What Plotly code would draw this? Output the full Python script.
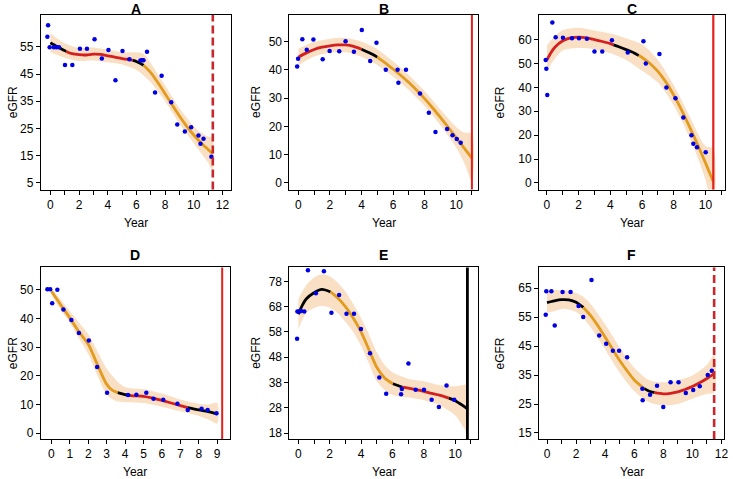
import plotly.graph_objects as go

W, H = 733, 479

# ---------------- data ----------------
panel_names = ["A", "B", "C", "D", "E", "F"]

# Panel A
A_pt_x = [-0.16, -0.21, -0.05, 0.25, 0.42, 0.6, 1.02, 1.53, 2.06, 2.55, 3.08, 3.59, 4.05, 4.54, 5.03, 5.51, 6.28, 6.39, 6.49, 6.74, 7.3, 7.76, 8.43, 8.85, 9.38, 9.82, 10.33, 10.47, 10.68, 11.23]
A_pt_y = [62.9, 58.7, 54.8, 54.8, 54.8, 54.8, 48.3, 48.3, 54.3, 54.3, 57.8, 50.7, 53.8, 42.7, 53.5, 50.4, 50.0, 50.1, 50.1, 53.2, 38.2, 44.4, 34.6, 26.5, 23.9, 25.5, 22.4, 19.4, 21.2, 14.6]
A_fit_x = [0, 0.5, 1, 1.1, 1.5, 2, 2.5, 3, 3.5, 4, 4.5, 5, 5.5, 5.75, 6, 6.5, 7, 7.5, 8, 8.5, 9, 9.5, 10, 10.5, 11, 11.3]
A_fit_y = [56.5, 55.0, 53.6, 53.3, 52.5, 52.1, 52.0, 52.3, 52.2, 51.7, 51.2, 50.7, 50.3, 50.0, 49.6, 48.2, 45.5, 41.8, 37.8, 33.6, 29.6, 25.9, 22.6, 19.8, 17.3, 15.8]
A_seg_x = [0, 1.1, 5.75, 6.5, 11.3]
A_seg_kind = ["k", "r", "k", "o"]
A_band_x = [0, 0.5, 1, 2, 3, 4, 5, 6, 6.5, 7, 8, 9, 10, 10.5, 11, 11.3]
A_band_hi = [60.0, 58.0, 56.3, 54.5, 54.7, 54.0, 53.0, 53.0, 52.5, 49.0, 40.8, 32.5, 25.8, 23.5, 22.0, 21.8]
A_band_lo = [53.0, 52.0, 51.0, 49.8, 50.0, 49.3, 48.5, 46.5, 44.5, 42.0, 35.0, 26.8, 19.6, 16.0, 12.5, 9.8]
A_vline = 11.33
A_xticks = list(range(0, 13))
A_yticks = [5, 15, 25, 35, 45, 55]

# Panel B
B_pt_x = [-0.08, -0.02, 0.25, 0.53, 0.95, 1.54, 1.98, 2.59, 2.99, 3.52, 4.02, 4.55, 4.95, 5.54, 6.29, 6.34, 6.82, 7.71, 8.27, 8.69, 9.43, 9.77, 10.04, 10.29]
B_pt_y = [41.2, 43.9, 50.8, 47.1, 50.7, 43.7, 46.7, 46.6, 50.1, 46.4, 54.1, 43.1, 49.6, 40.0, 40.0, 35.4, 40.0, 31.6, 24.8, 18.0, 19.1, 16.9, 15.5, 14.2]
B_fit_x = [0, 0.5, 1, 1.5, 2, 2.5, 3, 3.5, 4, 4.5, 5, 5.5, 6, 6.5, 7, 7.5, 8, 8.5, 9, 9.5, 10, 10.5, 11]
B_fit_y = [44.5, 46.0, 47.2, 48.0, 48.5, 48.8, 48.8, 48.3, 47.3, 46.0, 44.5, 42.5, 40.3, 38.0, 35.5, 32.8, 29.8, 26.6, 23.2, 19.7, 16.0, 12.4, 8.8]
B_seg_x = [0, 4, 5, 11]
B_seg_kind = ["r", "k", "o"]
B_band_x = [0, 0.5, 1, 2, 3, 4, 5, 6, 7, 8, 9, 10, 10.5, 11]
B_band_hi = [47.5, 48.8, 49.8, 51.0, 51.3, 50.0, 47.3, 43.0, 38.2, 32.5, 26.0, 19.8, 17.8, 17.3]
B_band_lo = [41.5, 43.3, 44.7, 46.0, 46.2, 44.6, 41.7, 37.6, 32.8, 27.2, 20.4, 12.5, 7.2, 0.5]
B_vline = 11.0
B_xticks = list(range(0, 12))
B_yticks = [0, 10, 20, 30, 40, 50]

# Panel C
C_pt_x = [-0.08, -0.04, 0.02, 0.34, 0.55, 1.01, 1.58, 2.02, 2.52, 3.0, 3.49, 4.1, 5.1, 6.09, 6.24, 7.1, 7.54, 8.11, 8.61, 9.12, 9.24, 9.47, 10.02]
C_pt_y = [51.5, 47.8, 36.8, 67.1, 61.0, 60.8, 60.6, 60.6, 60.3, 55.0, 55.0, 59.7, 54.6, 59.3, 50.0, 54.0, 40.0, 35.4, 27.4, 20.0, 16.4, 14.9, 12.8]
C_fit_x = [0, 0.25, 0.5, 1, 1.5, 2, 2.5, 3, 3.5, 4, 4.2, 4.5, 5, 5.5, 5.8, 6, 6.5, 7, 7.5, 8, 8.5, 9, 9.5, 10, 10.5]
C_fit_y = [51.5, 54.5, 56.8, 59.5, 60.7, 61.0, 60.7, 60.0, 59.2, 58.3, 57.8, 57.1, 55.8, 54.4, 53.3, 52.5, 50.0, 46.7, 42.3, 36.8, 30.5, 23.5, 16.2, 8.5, 0.5]
C_seg_x = [0, 4.2, 5.8, 10.5]
C_seg_kind = ["r", "k", "o"]
C_band_x = [0, 0.5, 1, 2, 3, 4, 5, 6, 7, 8, 9, 10, 10.5]
C_band_hi = [57.6, 61.5, 64.0, 65.0, 63.8, 62.5, 60.5, 58.0, 51.5, 41.0, 28.0, 15.5, 14.5]
C_band_lo = [47.2, 52.0, 55.5, 56.5, 56.0, 54.3, 51.5, 47.0, 42.0, 32.5, 19.0, 1.5, -13.0]
C_vline = 10.5
C_xticks = list(range(0, 12))
C_yticks = [0, 10, 20, 30, 40, 50, 60]

# Panel D
D_pt_x = [-0.22, -0.07, 0.04, 0.32, 0.65, 1.08, 1.49, 2.03, 2.48, 3.02, 4.16, 4.61, 5.15, 5.54, 6.07, 6.84, 7.4, 8.15, 8.48, 8.96]
D_pt_y = [50.2, 50.2, 45.3, 50.0, 43.1, 39.5, 34.9, 32.3, 23.1, 14.1, 13.3, 13.4, 14.1, 12.0, 11.6, 10.2, 8.1, 8.5, 8.1, 6.9]
D_fit_x = [0, 0.5, 1, 1.5, 2, 2.5, 3, 3.3, 3.6, 4, 4.3, 4.5, 5, 5.5, 6, 6.5, 7, 7.4, 8, 8.5, 9]
D_fit_y = [49.5, 44.8, 40.2, 35.3, 31.0, 23.8, 17.0, 15.0, 14.1, 13.4, 13.1, 13.0, 12.8, 12.2, 11.4, 10.5, 9.6, 8.9, 8.1, 7.5, 6.7]
D_seg_x = [0, 3.6, 4.3, 7.4, 9]
D_seg_kind = ["o", "k", "r", "k"]
D_band_x = [0, 0.5, 1, 1.5, 2, 2.5, 3, 3.5, 4, 5, 6, 7, 8, 8.5, 9]
D_band_hi = [50.5, 46.5, 42.5, 38.5, 34.5, 28.5, 22.5, 18.5, 16.0, 15.3, 13.8, 11.7, 10.2, 10.0, 10.5]
D_band_lo = [48.0, 43.0, 38.5, 33.0, 27.5, 20.0, 13.5, 11.2, 10.8, 10.5, 9.2, 7.6, 6.0, 4.8, 3.3]
D_vline = 9.27
D_xticks = list(range(0, 10))
D_yticks = [0, 10, 20, 30, 40, 50]

# Panel E
E_pt_x = [-0.06, -0.08, 0.04, 0.17, 0.38, 0.61, 1.12, 1.63, 2.11, 2.6, 3.07, 3.55, 3.99, 4.57, 5.16, 5.6, 6.55, 6.6, 7.02, 7.48, 8.01, 8.5, 8.96, 9.45, 9.94]
E_pt_y = [66.1, 55.3, 66.1, 66.3, 66.1, 82.4, 73.3, 82.0, 65.6, 72.6, 65.2, 65.2, 59.1, 49.6, 40.0, 33.5, 33.3, 35.4, 45.5, 35.1, 35.1, 31.2, 28.3, 36.8, 31.2]
E_fit_x = [0, 0.25, 0.5, 1, 1.5, 2.05, 2.5, 3, 3.5, 4, 4.5, 5, 5.5, 6.03, 6.6, 7, 7.5, 8, 8.5, 9, 9.6, 10, 10.5, 10.78]
E_fit_y = [65.0, 68.5, 71.0, 73.5, 74.8, 73.8, 71.5, 68.0, 63.5, 58.0, 51.0, 44.0, 39.8, 37.5, 36.2, 35.8, 35.2, 34.5, 33.7, 33.0, 31.8, 30.8, 28.8, 27.5]
E_seg_x = [0, 2.05, 6.03, 6.6, 9.6, 10.78]
E_seg_kind = ["k", "o", "k", "r", "k"]
E_band_x = [0, 0.5, 1, 1.5, 2, 2.5, 3, 3.5, 4, 4.5, 5, 5.5, 6, 7, 8, 9, 10, 10.5, 10.78]
E_band_hi = [71.0, 76.5, 79.5, 80.8, 80.0, 77.5, 74.0, 69.0, 63.5, 57.0, 50.0, 45.0, 42.0, 39.5, 38.5, 37.0, 36.5, 37.0, 37.0]
E_band_lo = [59.0, 65.5, 67.5, 68.2, 67.6, 65.5, 62.0, 58.0, 52.5, 45.5, 38.5, 35.0, 33.0, 32.0, 31.0, 29.0, 25.0, 20.5, 18.5]
E_vline = 10.78
E_xticks = list(range(0, 12))
E_yticks = [18, 28, 38, 48, 58, 68, 78]

# Panel F
F_pt_x = [-0.09, -0.05, 0.3, 0.53, 1.07, 1.62, 2.17, 2.49, 3.06, 3.59, 4.07, 4.53, 4.96, 5.51, 6.56, 6.58, 7.09, 7.57, 8.0, 8.5, 9.05, 9.55, 10.06, 10.51, 11.06, 11.34]
F_pt_y = [55.8, 63.9, 63.9, 52.1, 63.6, 63.6, 58.8, 55.0, 67.8, 48.6, 45.8, 43.4, 43.4, 41.1, 30.3, 26.3, 28.2, 31.3, 24.0, 32.5, 32.5, 28.8, 29.8, 31.1, 35.0, 36.5]
F_fit_x = [0, 0.5, 1, 1.5, 2, 2.5, 3, 3.5, 4, 4.5, 5, 5.5, 6, 6.7, 7, 7.4, 8, 8.5, 9, 9.5, 10, 10.5, 11, 11.5]
F_fit_y = [60.0, 60.6, 61.0, 60.9, 60.1, 58.3, 55.5, 52.0, 48.0, 44.0, 40.0, 36.5, 33.3, 30.3, 29.5, 28.9, 28.5, 28.7, 29.2, 30.0, 31.0, 32.3, 33.8, 35.5]
F_seg_x = [0, 2.5, 6.7, 7.4, 11.5]
F_seg_kind = ["k", "o", "k", "r"]
F_band_x = [0, 0.5, 1, 1.5, 2, 2.5, 3, 4, 5, 6, 7, 8, 9, 10, 11, 11.5]
F_band_hi = [63.5, 64.3, 64.2, 64.0, 63.3, 62.0, 59.5, 52.5, 44.5, 37.5, 33.3, 32.5, 33.2, 34.8, 38.5, 42.0]
F_band_lo = [56.5, 57.0, 57.8, 57.6, 56.7, 54.5, 51.5, 43.8, 35.8, 29.5, 25.7, 24.5, 25.0, 26.8, 28.5, 29.0]
F_vline = 11.5
F_xticks = list(range(0, 13))
F_yticks = [15, 25, 35, 45, 55, 65]

# ---------------- layout / style ----------------
# plot boxes in pixels: (left, right, top, bottom)
boxes = {
    "A": (41, 232, 15, 190), "B": (291, 481, 15, 190), "C": (542, 729, 15, 190),
    "D": (41, 231, 268, 440), "E": (291, 481, 268, 440), "F": (542, 728, 268, 440),
}
title_y = {"A": 7, "B": 7, "C": 7, "D": 254, "E": 254, "F": 254}
xranges = {"A": [-0.67, 12.58], "B": [-0.57, 11.41], "C": [-0.50, 11.24],
           "D": [-0.58, 9.68], "E": [-0.57, 11.48], "F": [-0.55, 12.18]}
yranges = {"A": [2.56, 66.7], "B": [-2.35, 59.4], "C": [-2.78, 70.3],
           "D": [-2.09, 57.8], "E": [15.6, 83.5], "F": [12.9, 72.1]}
seg_colors = {"k": "#000000", "r": "#D51F1F", "o": "#E39B1E"}
vline_style = {"A": ("#C8282C", "dash", 2.6), "B": ("#E3201C", "solid", 2.0),
               "C": ("#E3201C", "solid", 2.2), "D": ("#E3201C", "solid", 2.0),
               "E": ("#000000", "solid", 2.8), "F": ("#C8282C", "dash", 2.6)}

data = {
    "A": (A_pt_x, A_pt_y, A_fit_x, A_fit_y, A_seg_x, A_seg_kind, A_band_x, A_band_hi, A_band_lo, A_vline, A_xticks, A_yticks),
    "B": (B_pt_x, B_pt_y, B_fit_x, B_fit_y, B_seg_x, B_seg_kind, B_band_x, B_band_hi, B_band_lo, B_vline, B_xticks, B_yticks),
    "C": (C_pt_x, C_pt_y, C_fit_x, C_fit_y, C_seg_x, C_seg_kind, C_band_x, C_band_hi, C_band_lo, C_vline, C_xticks, C_yticks),
    "D": (D_pt_x, D_pt_y, D_fit_x, D_fit_y, D_seg_x, D_seg_kind, D_band_x, D_band_hi, D_band_lo, D_vline, D_xticks, D_yticks),
    "E": (E_pt_x, E_pt_y, E_fit_x, E_fit_y, E_seg_x, E_seg_kind, E_band_x, E_band_hi, E_band_lo, E_vline, E_xticks, E_yticks),
    "F": (F_pt_x, F_pt_y, F_fit_x, F_fit_y, F_seg_x, F_seg_kind, F_band_x, F_band_hi, F_band_lo, F_vline, F_xticks, F_yticks),
}

FONT = "Liberation Sans, Arial, sans-serif"
fig = go.Figure()
layout = dict(width=W, height=H, margin=dict(l=0, r=0, t=0, b=0),
              paper_bgcolor="white", plot_bgcolor="white", showlegend=False,
              font=dict(family=FONT, size=12, color="black"))
annotations = []
shapes = []

for i, name in enumerate(panel_names):
    (px, py, fx, fy, sx, sk, bx, bhi, blo, vx, xt, yt) = data[name]
    n = i + 1
    xa = "x" if n == 1 else f"x{n}"
    ya = "y" if n == 1 else f"y{n}"
    L, R, T, B = boxes[name]
    ax_common = dict(showline=True, linecolor="black", linewidth=1, mirror=True,
                     ticks="outside", ticklen=4, tickwidth=1, tickcolor="black",
                     showgrid=False, zeroline=False, tickfont=dict(size=12, family=FONT))
    xtext = [str(v) if (name == "D" or v % 2 == 0) else "" for v in xt]
    layout["xaxis" if n == 1 else f"xaxis{n}"] = dict(
        domain=[L / W, R / W], anchor=ya, range=xranges[name],
        tickmode="array", tickvals=xt, ticktext=xtext, **ax_common)
    layout["yaxis" if n == 1 else f"yaxis{n}"] = dict(
        domain=[1 - B / H, 1 - T / H], anchor=xa, range=yranges[name],
        tickmode="array", tickvals=yt, ticktext=[str(v) for v in yt], **ax_common)

    # confidence band
    fig.add_trace(go.Scatter(x=list(bx) + list(bx)[::-1], y=list(bhi) + list(blo)[::-1],
                             fill="toself", fillcolor="rgba(245,205,160,0.62)",
                             line=dict(width=0, shape="spline", smoothing=0.8),
                             mode="lines", xaxis=xa, yaxis=ya, hoverinfo="skip"))
    # fitted curve, coloured segments
    for k in range(len(sk)):
        a, b = sx[k], sx[k + 1]
        seg_x = [x for x in fx if a <= x <= b]
        seg_y = [y for x, y in zip(fx, fy) if a <= x <= b]
        fig.add_trace(go.Scatter(x=seg_x, y=seg_y, mode="lines",
                                 line=dict(color=seg_colors[sk[k]], width=2.8, shape="spline", smoothing=0.8),
                                 xaxis=xa, yaxis=ya, hoverinfo="skip"))
    # observed points
    fig.add_trace(go.Scatter(x=px, y=py, mode="markers",
                             marker=dict(color="#0000E6", size=4.5, line=dict(width=0)),
                             xaxis=xa, yaxis=ya, hoverinfo="skip"))
    # vertical line
    col, dash, wid = vline_style[name]
    shapes.append(dict(type="line", xref=xa, yref=f"{ya} domain", x0=vx, x1=vx, y0=0, y1=1,
                       line=dict(color=col, width=wid, dash="8px,4px" if dash == "dash" else "solid")))

    cx = (L + R) / 2 / W
    # panel title
    ty = title_y[name]
    annotations.append(dict(text=f"<b>{name}</b>", x=cx, y=1 - max(ty - 7, 0) / H, xref="paper", yref="paper",
                            xanchor="center", yanchor="top", showarrow=False, borderpad=0,
                            font=dict(size=14, family=FONT, color="black")))
    # x title
    annotations.append(dict(text="Year", x=cx, y=1 - (B + 33) / H, xref="paper", yref="paper",
                            xanchor="center", yanchor="middle", showarrow=False,
                            font=dict(size=12, family=FONT, color="black")))
    # y title
    ex = {"A": 13, "B": 258, "C": 503, "D": 13, "E": 258, "F": 503}[name]
    annotations.append(dict(text="eGFR", x=ex / W, y=1 - (T + B) / 2 / H, xref="paper", yref="paper",
                            xanchor="center", yanchor="middle", textangle=-90, showarrow=False,
                            font=dict(size=12, family=FONT, color="black")))

layout["annotations"] = annotations
layout["shapes"] = shapes
fig.update_layout(**layout)
fig.write_html("out.html", config={"displayModeBar": False},
               post_script="document.body.style.margin='0px';")
